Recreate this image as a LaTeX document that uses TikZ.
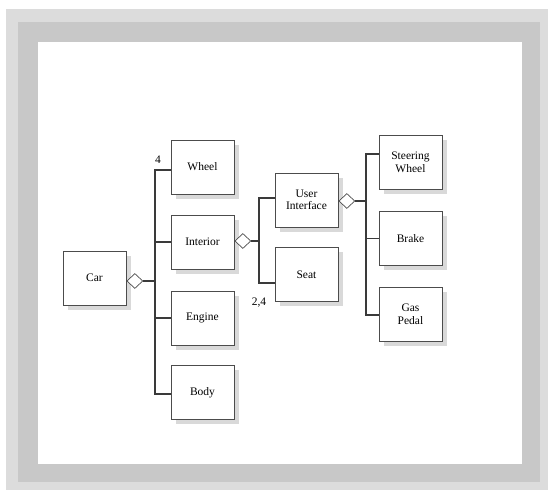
\documentclass[tikz,border=0pt]{standalone}
\usepackage{fontspec}
\setmainfont{Liberation Serif}
\usetikzlibrary{shapes.geometric,shadows}
\definecolor{frameA}{HTML}{DCDCDC}
\definecolor{frameB}{HTML}{C8C8C8}
\definecolor{lineC}{HTML}{3A3A3A}
\tikzset{
  umlbox/.style={draw=black!70, line width=0.7pt, fill=white, minimum width=63pt, minimum height=54pt,
    inner sep=0pt, align=center, font=\fontsize{11.5}{12.5}\selectfont,
    drop shadow={shadow xshift=5pt, shadow yshift=-5pt, fill=gray!30, opacity=1}},
  agg/.style={diamond, draw=black!70, line width=0.7pt, fill=white, minimum width=16pt, minimum height=15pt, inner sep=0pt},
  conn/.style={draw=lineC, line width=1.1pt},
  mult/.style={font=\fontsize{11.5}{12.5}\selectfont, inner sep=0pt}
}
\begin{document}
\begin{tikzpicture}[x=1pt,y=-1pt]
\useasboundingbox (0,0) rectangle (550,492);
\fill[frameA] (6,9) rectangle (548,490);
\fill[frameB] (18,22) rectangle (540,482);
\fill[white] (38,42) rectangle (522,464);
% boxes
\node[umlbox] (car) at (94.5,278) {Car};
\node[umlbox] (wheel) at (202.5,167) {Wheel};
\node[umlbox] (interior) at (202.5,242) {Interior};
\node[umlbox] (engine) at (202.5,318) {Engine};
\node[umlbox] (body) at (202.5,392.5) {Body};
\node[umlbox] (ui) at (306.5,200) {User\\Interface};
\node[umlbox] (seat) at (306.5,274.5) {Seat};
\node[umlbox] (steer) at (410.5,162.5) {Steering\\Wheel};
\node[umlbox] (brake) at (410.5,238.5) {Brake};
\node[umlbox] (gas) at (410.5,314) {Gas\\Pedal};
% diamonds
\node[agg, anchor=west] (d1) at (126.5,281) {};
\node[agg, anchor=west] (d2) at (234.5,241) {};
\node[agg, anchor=west] (d3) at (338.5,201) {};
% bar coordinates
\coordinate (b1t) at (155,170);
\coordinate (b1b) at (155,394);
\coordinate (b2t) at (259,198);
\coordinate (b2b) at (259,283);
\coordinate (b3t) at (366,154);
\coordinate (b3b) at (366,315);
% connectors
\draw[conn] (d1.east) -- (d1.east -| b1t);
\draw[conn] (wheel.west |- b1t) -- (b1t) -- (b1b) -- (body.west |- b1b);
\draw[conn] (interior.west) -- (interior.west -| b1t);
\draw[conn] (engine.west) -- (engine.west -| b1t);
\draw[conn] (d2.east) -- (d2.east -| b2t);
\draw[conn] (ui.west |- b2t) -- (b2t) -- (b2b) -- (seat.west |- b2b);
\draw[conn] (d3.east) -- (d3.east -| b3t);
\draw[conn] (steer.west |- b3t) -- (b3t) -- (b3b) -- (gas.west |- b3b);
\draw[conn] (brake.west) -- (brake.west -| b3t);
% multiplicities
\node[mult] (m1) at (158,160) {4};
\node[mult] (m2) at (259,303) {2,4};
\end{tikzpicture}
\end{document}
